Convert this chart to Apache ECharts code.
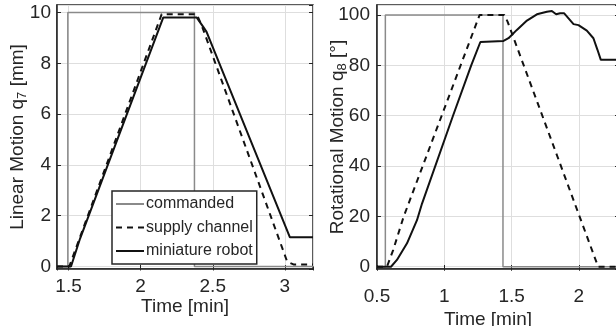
<!DOCTYPE html>
<html>
<head>
<meta charset="utf-8">
<script src="https://cdn.jsdelivr.net/npm/echarts@6/dist/echarts.min.js"></script>
<style>
  html, body { margin: 0; padding: 0; background: #fff; }
  #chart { width: 616px; height: 326px; }
</style>
</head>
<body>
<div id="chart"></div>
<script>
// left panel: linear motion q7 [mm]
const cmdT7 = [1.42, 1.495, 1.495, 2.373, 2.373, 3.195];
const cmdV7 = [0, 0, 10, 10, 0, 0];
const supT7 = [1.42, 1.505, 2.146, 2.388, 2.423, 3.016, 3.06, 3.195];
const supV7 = [0, 0, 9.94, 9.94, 9.5, 0.19, 0.08, 0.08];
const robT7 = [1.42, 1.517, 1.58, 2.157, 2.388, 2.434, 2.457, 3.035, 3.195];
const robV7 = [0, 0, 1.1, 9.81, 9.81, 9.44, 9.24, 1.15, 1.15];

// right panel: rotational motion q8 [deg]
const cmdT8 = [0.5, 0.562, 0.562, 1.436, 1.436, 2.3];
const cmdV8 = [0, 0, 100, 100, 0, 0];
const supT8 = [0.5, 0.574, 0.62, 0.698, 1.262, 1.446, 1.47, 2.143, 2.3];
const supV8 = [0, 0, 6.6, 19.9, 100, 100, 97.4, 0, 0];
const robT8 = [0.5, 0.604, 0.648, 0.723, 0.797, 0.834, 1.064, 1.2, 1.268, 1.44, 1.477, 1.539, 1.614,
               1.688, 1.762, 1.799, 1.831, 1.861, 1.891, 1.96, 1.997, 2.059, 2.108, 2.138, 2.163, 2.3];
const robV8 = [0, 0, 2.7, 9.3, 18.5, 25, 59.9, 80, 89.3, 89.7, 90.8, 94.1, 97.8,
               100.3, 101.3, 101.6, 100.3, 100.7, 100.7, 96.4, 96, 93.8, 90.8, 86.2, 82.2, 82.2];

const names = ['commanded', 'supply channel', 'miniature robot'];

const zip = (t, v) => t.map((x, i) => [x, v[i]]);

const dark = '#262626';
const font = 'Liberation Sans, Arial, Helvetica, sans-serif';

const myChart = echarts.init(document.getElementById('chart'), null, { renderer: 'canvas' });

function mainX(grid, min, max, nameGap, labelMargin, namePad, showMin) {
    return {
        type: 'value', gridIndex: grid, min: min, max: max, splitNumber: 4,
        name: 'Time [min]', nameLocation: 'middle', nameGap: nameGap, nameMoveOverlap: false,
        nameTextStyle: { fontFamily: font, fontSize: 19, color: dark, padding: namePad },
        axisLine: { show: true, onZero: false, lineStyle: { color: dark, width: 1.5 } },
        axisTick: { show: true, inside: true, length: 4, lineStyle: { color: dark } },
        axisLabel: { fontFamily: font, fontSize: 19, color: dark, margin: labelMargin,
                     showMinLabel: showMin, showMaxLabel: false },
        splitLine: { show: true, lineStyle: { color: '#dedede', width: 1 } }
    };
}
function mirrorX(grid, min, max) {
    return {
        type: 'value', gridIndex: grid, position: 'top', min: min, max: max, splitNumber: 4,
        axisLine: { show: false }, axisLabel: { show: false }, splitLine: { show: false },
        axisTick: { show: true, inside: true, length: 4, lineStyle: { color: dark } }
    };
}
function mainY(grid, min, max, name, nameGap, labelMargin) {
    return {
        type: 'value', gridIndex: grid, min: min, max: max, splitNumber: 5,
        name: name, nameLocation: 'middle', nameGap: nameGap, nameMoveOverlap: false,
        nameTextStyle: {
            rich: {
                a: { fontFamily: font, fontSize: 19, color: dark },
                b: { fontFamily: font, fontSize: 13, color: dark, padding: [9, 0, 0, 0] }
            }
        },
        axisLine: { show: true, onZero: false, lineStyle: { color: dark, width: 1.5 } },
        axisTick: { show: true, inside: true, length: 4, lineStyle: { color: dark } },
        axisLabel: { fontFamily: font, fontSize: 19, color: dark, margin: labelMargin,
                     showMinLabel: false, showMaxLabel: false },
        splitLine: { show: true, lineStyle: { color: '#dedede', width: 1 } }
    };
}
function mirrorY(grid, min, max) {
    return {
        type: 'value', gridIndex: grid, position: 'right', min: min, max: max, splitNumber: 5,
        axisLine: { show: false }, axisLabel: { show: false }, splitLine: { show: false },
        axisTick: { show: true, inside: true, length: 4, lineStyle: { color: dark } }
    };
}

function lines(xi, yi, cmd, sup, rob) {
    return [
        { name: names[0], type: 'line', xAxisIndex: xi, yAxisIndex: yi, data: cmd,
          symbol: 'none', lineStyle: { color: '#8a8a8a', width: 1.5 }, itemStyle: { color: '#8a8a8a' } },
        { name: names[1], type: 'line', xAxisIndex: xi, yAxisIndex: yi, data: sup,
          symbol: 'none', lineStyle: { color: '#111', width: 2, type: [6, 5] }, itemStyle: { color: '#111' } },
        { name: names[2], type: 'line', xAxisIndex: xi, yAxisIndex: yi, data: rob,
          symbol: 'none', lineStyle: { color: '#111', width: 2 }, itemStyle: { color: '#111' } }
    ];
}

const option = {
    animation: false,
    backgroundColor: '#fff',
    grid: [
        { left: 57, top: 5, width: 256, height: 264, show: true, borderColor: dark, borderWidth: 1.5,
          backgroundColor: 'transparent', outerBoundsMode: 'none', containLabel: false },
        { left: 377, top: 5, width: 242, height: 264, show: true, borderColor: dark, borderWidth: 1.5,
          backgroundColor: 'transparent', outerBoundsMode: 'none', containLabel: false }
    ],
    xAxis: [
        mainX(0, 1.42, 3.195, 28, 8, [0, 0, 0, 0], false),
        mainX(1, 0.5, 2.298, 41, 18, [0, 20, 0, 0], true),
        mirrorX(0, 1.42, 3.195),
        mirrorX(1, 0.5, 2.298)
    ],
    yAxis: [
        mainY(0, -0.1, 10.3, '{a|Linear Motion q}{b|7}{a| [mm]}', 28, 6),
        mainY(1, -0.9, 104, '{a|Rotational Motion q}{b|8}{a| [°]}', 28, 7),
        mirrorY(0, -0.1, 10.3),
        mirrorY(1, -0.9, 104)
    ],
    legend: {
        data: names,
        orient: 'vertical',
        left: 112, top: 191,
        padding: [5, 4, 5, 3],
        itemWidth: 28, itemHeight: 14, itemGap: 7.5,
        backgroundColor: '#fff',
        borderColor: dark, borderWidth: 1.5, borderRadius: 0,
        itemStyle: { opacity: 0, color: 'rgba(0,0,0,0)', borderWidth: 0 },
        textStyle: { fontFamily: font, fontSize: 16, color: dark, padding: [0, 0, 0, -3] }
    },
    series: [
        ...lines(0, 0, zip(cmdT7, cmdV7), zip(supT7, supV7), zip(robT7, robV7)),
        ...lines(1, 1, zip(cmdT8, cmdV8), zip(supT8, supV8), zip(robT8, robV8))
    ]
};

myChart.setOption(option);
</script>
</body>
</html>
